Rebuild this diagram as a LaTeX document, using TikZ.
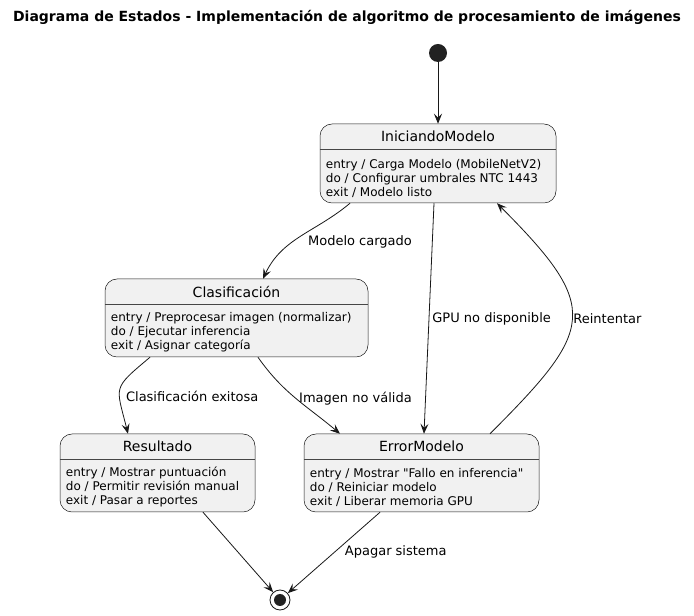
\documentclass[tikz,border=0pt]{standalone}
\usepackage{fontspec}
\setmainfont{DejaVu Sans}[Ligatures=TeXOff]
\usetikzlibrary{calc, arrows.meta}

\definecolor{stateFill}{HTML}{F1F1F1}
\definecolor{lineCol}{HTML}{181818}
\definecolor{dotCol}{HTML}{222222}

\tikzset{
	state/.style = {draw=lineCol, fill=stateFill, line width=0.5pt, rounded corners=12pt, inner sep=0pt},
	stateName/.style = {font=\fontsize{14}{16}\selectfont, inner sep=0pt},
	stateBody/.style = {font=\fontsize{12}{14}\selectfont, align=left, inner sep=0pt, anchor=west},
	stateSep/.style = {draw=lineCol!80, line width=0.5pt},
	trans/.style = {draw=lineCol, line width=0.8pt, -{Stealth[length=10pt, width=8pt, inset=4pt]}},
	lbl/.style = {font=\fontsize{13}{15}\selectfont, right, inner sep=3pt}
}

\begin{document}
\begin{tikzpicture}[x=1pt, y=1pt]
	\useasboundingbox (0,0) rectangle (694,616);

	\node[font=\bfseries\fontsize{14}{16}\selectfont] (title) at (347,599) {Diagrama de Estados - Implementación de algoritmo de procesamiento de imágenes};

	\node[circle, fill=dotCol, minimum size=18pt, inner sep=0pt] (start) at (438,563) {};
	\node[circle, draw=lineCol, line width=0.8pt, fill=white, minimum size=20pt, inner sep=0pt] (fin) at (280,16) {};
	\node[circle, fill=dotCol, minimum size=12pt, inner sep=0pt] (finDot) at (fin) {};

	\node[state, minimum width=236pt, minimum height=79pt] (ini) at (438,452.5) {};
	\node[stateName] (iniName) at ([yshift=-13pt]ini.north) {IniciandoModelo};
	\draw[stateSep] ([yshift=-26pt]ini.north west) -- ([yshift=-26pt]ini.north east);
	\node[stateBody] (iniBody) at ([xshift=6pt, yshift=25pt]ini.south west) {entry / Carga Modelo (MobileNetV2)\\do / Configurar umbrales NTC 1443\\exit / Modelo listo};

	\node[state, minimum width=263pt, minimum height=78pt] (clas) at (236.5,298) {};
	\node[stateName] (clasName) at ([yshift=-13pt]clas.north) {Clasificación};
	\draw[stateSep] ([yshift=-26pt]clas.north west) -- ([yshift=-26pt]clas.north east);
	\node[stateBody] (clasBody) at ([xshift=6pt, yshift=25pt]clas.south west) {entry / Preprocesar imagen (normalizar)\\do / Ejecutar inferencia\\exit / Asignar categoría};

	\node[state, minimum width=195pt, minimum height=78pt] (res) at (157.5,143) {};
	\node[stateName] (resName) at ([yshift=-13pt]res.north) {Resultado};
	\draw[stateSep] ([yshift=-26pt]res.north west) -- ([yshift=-26pt]res.north east);
	\node[stateBody] (resBody) at ([xshift=6pt, yshift=25pt]res.south west) {entry / Mostrar puntuación\\do / Permitir revisión manual\\exit / Pasar a reportes};

	\node[state, minimum width=235pt, minimum height=78pt] (err) at (421.5,143) {};
	\node[stateName] (errName) at ([yshift=-13pt]err.north) {ErrorModelo};
	\draw[stateSep] ([yshift=-26pt]err.north west) -- ([yshift=-26pt]err.north east);
	\node[stateBody] (errBody) at ([xshift=6pt, yshift=25pt]err.south west) {entry / Mostrar "Fallo en inferencia"\\do / Reiniciar modelo\\exit / Liberar memoria GPU};

	\begin{scope}[trans]
		\draw (start) -- (ini.north);
		\draw ([xshift=-88pt]ini.south) to[out=-140, in=65] node[lbl, pos=.5, xshift=4pt, yshift=-5pt] {Modelo cargado} ([xshift=26.5pt]clas.north);
		\draw ([xshift=-4pt]ini.south) -- node[lbl, midway] {GPU no disponible} ([xshift=2.5pt]err.north);
		\draw ([xshift=68.5pt]err.north) to[out=45, in=-45, distance=148pt] node[lbl, midway, xshift=-2pt] {Reintentar} ([xshift=59pt]ini.south);
		\draw ([xshift=-86.5pt]clas.south) to[out=-140, in=104, looseness=1.6] node[lbl, pos=.55, xshift=3pt, yshift=-4pt] {Clasificación exitosa} ([xshift=-29.5pt]res.north);
		\draw ([xshift=21.5pt]clas.south) to[out=-55, in=140] node[lbl, midway] {Imagen no válida} ([xshift=-81.5pt]err.north);
		\draw ([xshift=45.5pt]res.south) -- (fin);
		\draw ([xshift=-41.5pt]err.south) -- node[lbl, pos=.45, xshift=3pt, yshift=-3pt] {Apagar sistema} (fin);
	\end{scope}
\end{tikzpicture}
\end{document}
